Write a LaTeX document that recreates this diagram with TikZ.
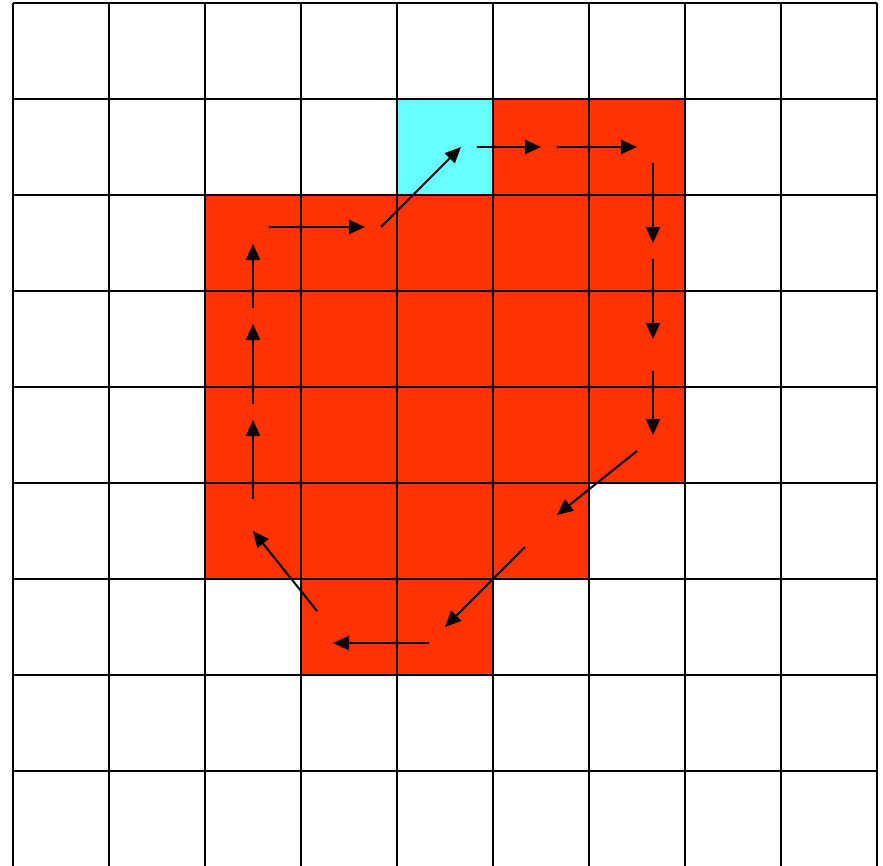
\documentclass[tikz,border=0pt]{standalone}
\usetikzlibrary{arrows.meta}
\definecolor{cellred}{HTML}{FF3300}
\definecolor{cellcyan}{HTML}{66FFFF}
\tikzset{
  gridline/.style={line width=2.5pt, black},
  flow/.style={line width=2pt, black, -{Triangle[length=16pt,width=14pt]}},
  redcell/.style={fill=cellred},
  cyancell/.style={fill=cellcyan}
}
\begin{document}
\begin{tikzpicture}[x=1pt,y=-1pt]
\useasboundingbox (0,0) rectangle (883,865);
\clip (0,0) rectangle (883,865);
% cells: (col,row) with origin (13,3), size 96
\newcommand{\cellat}[3]{\fill[#3] ({13+96*#1},{3+96*#2}) rectangle ({13+96*(#1+1)},{3+96*(#2+1)});}
\cellat{4}{1}{cyancell}
\foreach \c in {5,6} {\cellat{\c}{1}{redcell}}
\foreach \r in {2,3,4} {\foreach \c in {2,...,6} {\cellat{\c}{\r}{redcell}}}
\foreach \c in {2,...,5} {\cellat{\c}{5}{redcell}}
\foreach \c in {3,4} {\cellat{\c}{6}{redcell}}
% grid
\foreach \i in {0,...,9} {
  \draw[gridline] ({13+96*\i},3) -- ({13+96*\i},867);
  \draw[gridline] (13,{3+96*\i}) -- (877,{3+96*\i});
}
% arrow end points
\coordinate (a1s) at (253,499); \coordinate (a1e) at (253,420);
\coordinate (a2s) at (253,404); \coordinate (a2e) at (253,324);
\coordinate (a3s) at (253,308); \coordinate (a3e) at (253,244);
\coordinate (a4s) at (269,227); \coordinate (a4e) at (365,227);
\coordinate (a5s) at (381,227); \coordinate (a5e) at (461,147);
\coordinate (a6s) at (477,147); \coordinate (a6e) at (541,147);
\coordinate (a7s) at (557,147); \coordinate (a7e) at (637,147);
\coordinate (a8s) at (653,163); \coordinate (a8e) at (653,243);
\coordinate (a9s) at (653,259); \coordinate (a9e) at (653,339);
\coordinate (a10s) at (653,371); \coordinate (a10e) at (653,435);
\coordinate (a11s) at (637,451); \coordinate (a11e) at (557,515);
\coordinate (a12s) at (525,547); \coordinate (a12e) at (445,627);
\coordinate (a13s) at (429,643); \coordinate (a13e) at (333,643);
\coordinate (a14s) at (317,611); \coordinate (a14e) at (253,531);
\foreach \k in {1,...,14} {\draw[flow] (a\k s) -- (a\k e);}
\end{tikzpicture}
\end{document}
